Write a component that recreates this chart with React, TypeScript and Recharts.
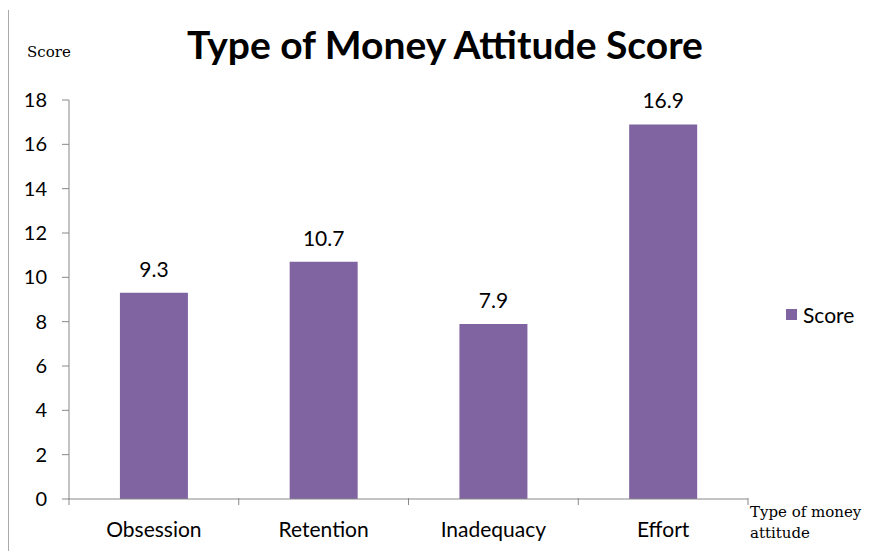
import { BarChart, Bar, XAxis, YAxis, LabelList } from 'recharts'

const categories = ['Obsession', 'Retention', 'Inadequacy', 'Effort']
const scores = [9.3, 10.7, 7.9, 16.9]
const yTicks = [0, 2, 4, 6, 8, 10, 12, 14, 16, 18]
const seriesName = 'Score'

const data = categories.map((name, i) => ({ name, Score: scores[i] }))

const W = 876
const H = 551
const M = { top: 100, right: 128, bottom: 0, left: 0 }
const Y_W = 69
const X_H = 52
const band = (W - M.left - M.right - Y_W) / categories.length

const font = 'Lato, "Open Sans", sans-serif'
const serif = '"DejaVu Serif", "Liberation Serif", serif'
const axisColor = '#888'
const barColor = '#8064A2'

// category ticks sit between bars, like in Excel
function CatTick(props: any) {
  const { x, y, payload, index } = props
  const last = index === categories.length - 1
  const y0 = y - 9
  return (
    <g>
      <line x1={x - band / 2} y1={y0} x2={x - band / 2} y2={y0 + 7} stroke={axisColor} />
      {last && <line x1={x + band / 2} y1={y0} x2={x + band / 2} y2={y0 + 7} stroke={axisColor} />}
      <text x={x} y={y + 30} textAnchor="middle" fill="#000" fontSize={21} fontFamily={font}>
        {payload.value}
      </text>
    </g>
  )
}

export default function App() {
  return (
    <div style={{ position: 'absolute', left: 0, top: 0, width: W, height: H, background: '#fff' }}>
      <div style={{ position: 'absolute', left: 8, top: 10, width: 1, height: H - 10, background: '#aaa' }} />
      <div
        style={{
          position: 'absolute', left: 0, width: W, top: 21, textAlign: 'center',
          fontFamily: font, fontWeight: 700, fontSize: 39, color: '#000', paddingLeft: 14,
          boxSizing: 'border-box',
        }}
      >
        Type of Money Attitude Score
      </div>
      <div style={{ position: 'absolute', left: 27, top: 43, fontFamily: serif, fontSize: 15, color: '#000' }}>
        Score
      </div>
      <div
        style={{
          position: 'absolute', left: 750, top: 502, fontFamily: serif, fontSize: 15,
          lineHeight: '21px', color: '#000', width: 130,
        }}
      >
        Type of money<br />attitude
      </div>
      <div
        style={{
          position: 'absolute', left: 786, top: 302, display: 'flex', alignItems: 'center',
          fontFamily: font, fontSize: 21, color: '#000',
        }}
      >
        <span style={{ width: 11, height: 11, background: barColor, marginRight: 6, display: 'inline-block' }} />
        {seriesName}
      </div>
      <BarChart width={W} height={H} data={data} margin={M} barCategoryGap="30%">
        <XAxis
          dataKey="name"
          height={X_H}
          stroke={axisColor}
          tickLine={false}
          interval={0}
          tick={<CatTick />}
        />
        <YAxis
          width={Y_W}
          domain={[0, 18]}
          ticks={yTicks}
          interval={0}
          stroke={axisColor}
          tickSize={7}
          tickMargin={15}
          tick={{ fill: '#000', fontSize: 20, fontFamily: font }}
        />
        <Bar dataKey="Score" name={seriesName} fill={barColor} isAnimationActive={false}>
          <LabelList dataKey="Score" position="top" offset={16} fill="#000" fontSize={21} fontFamily={font} />
        </Bar>
      </BarChart>
    </div>
  )
}
